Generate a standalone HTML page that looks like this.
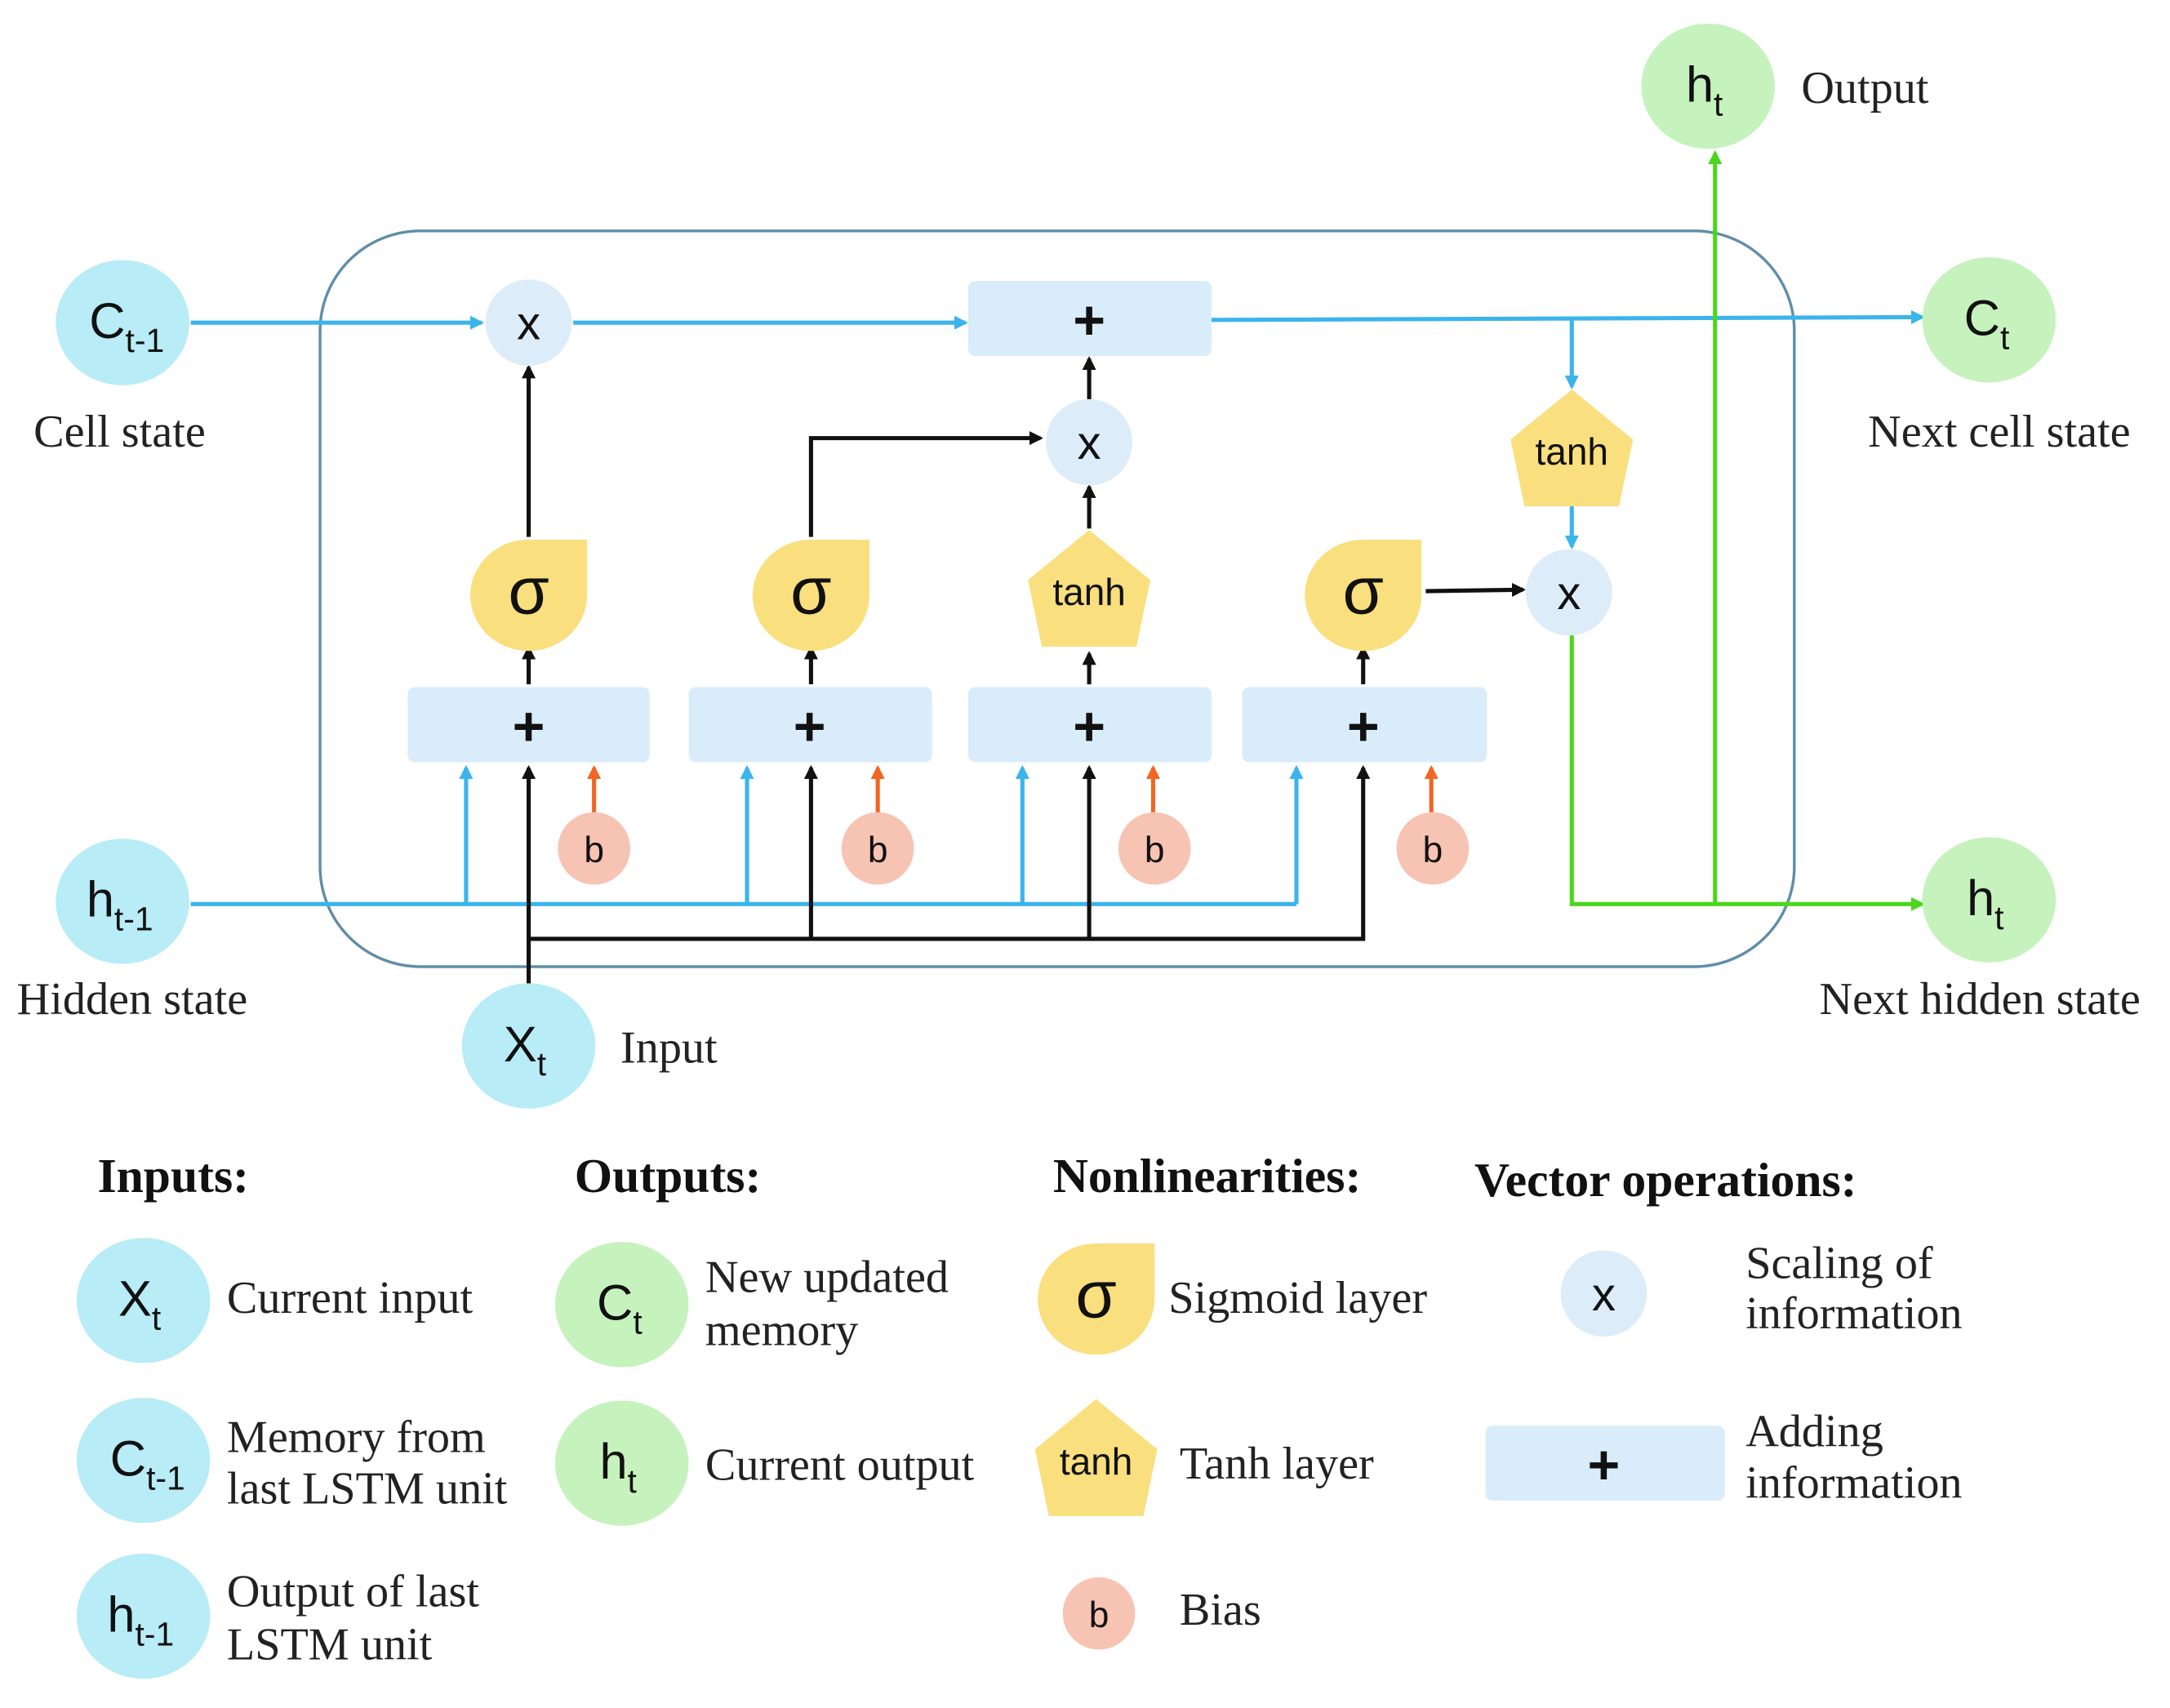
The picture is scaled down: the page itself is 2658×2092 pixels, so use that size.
<!DOCTYPE html>
<html><head><style>
html,body{margin:0;padding:0;background:#fff;width:2658px;height:2092px;overflow:hidden}
svg{display:block}
.s{font-family:"Liberation Sans","DejaVu Sans",sans-serif;fill:#111}
.r{font-family:"Liberation Serif",serif;fill:#222;font-size:33px}
.h{font-family:"Liberation Serif",serif;fill:#111;font-size:35px;font-weight:bold}
</style></head><body>
<svg width="2658" height="2092" viewBox="0 0 1560 1228" xmlns="http://www.w3.org/2000/svg">
<defs>
<marker id="ab" markerWidth="10" markerHeight="10" refX="8" refY="5" orient="auto" markerUnits="userSpaceOnUse"><path d="M0,0 L10,5 L0,10 z" fill="#3bb4ec"/></marker>
<marker id="ak" markerWidth="10" markerHeight="10" refX="8" refY="5" orient="auto" markerUnits="userSpaceOnUse"><path d="M0,0 L10,5 L0,10 z" fill="#111"/></marker>
<marker id="ao" markerWidth="10" markerHeight="10" refX="8" refY="5" orient="auto" markerUnits="userSpaceOnUse"><path d="M0,0 L10,5 L0,10 z" fill="#f26522"/></marker>
<marker id="ag" markerWidth="10" markerHeight="10" refX="8" refY="5" orient="auto" markerUnits="userSpaceOnUse"><path d="M0,0 L10,5 L0,10 z" fill="#4cd61c"/></marker>
<g id="sig"><path d="M0,-40 L42,-40 L42,0 A42,40 0 1 1 0,-40 z" fill="#fadf7f"/><text x="0" y="13" class="s" font-size="48" text-anchor="middle">σ</text></g>
<g id="tnh"><path d="M0,-44 L44,-8 L34,40 L-34,40 L-44,-8 z" fill="#fadf7f"/><text x="0" y="10" class="s" font-size="27" text-anchor="middle">tanh</text></g>
</defs>
<rect x="0" y="0" width="1560" height="1228" fill="#fff"/>
<rect x="230" y="166" width="1060" height="529" rx="72" fill="none" stroke="#5f8ea8" stroke-width="2"/>

<g stroke="#3bb4ec" stroke-width="3" fill="none">
<line x1="137" y1="232" x2="346" y2="232" marker-end="url(#ab)"/>
<line x1="412" y1="232" x2="694" y2="232" marker-end="url(#ab)"/>
<line x1="870" y1="230" x2="1382" y2="228" marker-end="url(#ab)"/>
<line x1="1130" y1="230" x2="1130" y2="278" marker-end="url(#ab)"/>
<line x1="1130" y1="362" x2="1130" y2="393" marker-end="url(#ab)"/>
<line x1="137" y1="650" x2="932" y2="650"/>
<line x1="335" y1="650" x2="335" y2="552" marker-end="url(#ab)"/>
<line x1="537" y1="650" x2="537" y2="552" marker-end="url(#ab)"/>
<line x1="735" y1="650" x2="735" y2="552" marker-end="url(#ab)"/>
<line x1="932" y1="650" x2="932" y2="552" marker-end="url(#ab)"/>
</g>
<g stroke="#111" stroke-width="3" fill="none">
<line x1="380" y1="710" x2="380" y2="552" marker-end="url(#ak)"/>
<polyline points="380,675 980,675 980,552" marker-end="url(#ak)"/>
<line x1="583" y1="675" x2="583" y2="552" marker-end="url(#ak)"/>
<line x1="783" y1="675" x2="783" y2="552" marker-end="url(#ak)"/>
<line x1="380" y1="492" x2="380" y2="466" marker-end="url(#ak)"/>
<line x1="583" y1="492" x2="583" y2="466" marker-end="url(#ak)"/>
<line x1="783" y1="492" x2="783" y2="470" marker-end="url(#ak)"/>
<line x1="980" y1="492" x2="980" y2="466" marker-end="url(#ak)"/>
<line x1="380" y1="386" x2="380" y2="264" marker-end="url(#ak)"/>
<polyline points="583,386 583,315 748,315" marker-end="url(#ak)"/>
<line x1="783" y1="380" x2="783" y2="350" marker-end="url(#ak)"/>
<line x1="783" y1="288" x2="783" y2="258" marker-end="url(#ak)"/>
<line x1="1025" y1="425" x2="1095" y2="424" marker-end="url(#ak)"/>
</g>
<g stroke="#f26522" stroke-width="3">
<line x1="427" y1="584" x2="427" y2="552" marker-end="url(#ao)"/>
<line x1="631" y1="584" x2="631" y2="552" marker-end="url(#ao)"/>
<line x1="829" y1="584" x2="829" y2="552" marker-end="url(#ao)"/>
<line x1="1029" y1="584" x2="1029" y2="552" marker-end="url(#ao)"/>
</g>
<g stroke="#4cd61c" stroke-width="3" fill="none">
<polyline points="1130,456 1130,650 1382,650" marker-end="url(#ag)"/>
<line x1="1233" y1="650" x2="1233" y2="110" marker-end="url(#ag)"/>
</g>

<g fill="#d9ecfa">
<rect x="696" y="202" width="175" height="54" rx="5"/>
<rect x="293" y="494" width="174" height="54" rx="5"/>
<rect x="495" y="494" width="175" height="54" rx="5"/>
<rect x="696" y="494" width="175" height="54" rx="5"/>
<rect x="893" y="494" width="176" height="54" rx="5"/>
<rect x="1068" y="1025" width="172" height="54" rx="5"/>
</g>
<g class="s" font-size="40" font-weight="bold" text-anchor="middle">
<text x="783" y="244">+</text><text x="380" y="536">+</text><text x="582" y="536">+</text><text x="783" y="536">+</text><text x="980" y="536">+</text><text x="1153" y="1067">+</text>
</g>

<g fill="#dcecf8">
<circle cx="380" cy="232" r="31"/><circle cx="783" cy="318" r="31"/><circle cx="1128" cy="426" r="31"/><circle cx="1153" cy="930" r="31"/>
</g>
<g class="s" font-size="34" text-anchor="middle">
<text x="380" y="244">x</text><text x="783" y="330">x</text><text x="1128" y="438">x</text><text x="1153" y="942">x</text>
</g>

<use href="#sig" x="380" y="428"/><use href="#sig" x="583" y="428"/><use href="#sig" x="980" y="428"/>
<use href="#tnh" x="783" y="425"/><use href="#tnh" x="1130" y="324"/>
<use href="#sig" x="788" y="934"/><use href="#tnh" x="788" y="1050"/>

<g fill="#f7c3b3">
<circle cx="427" cy="610" r="26"/><circle cx="631" cy="610" r="26"/><circle cx="830" cy="610" r="26"/><circle cx="1030" cy="610" r="26"/><circle cx="790" cy="1160" r="26"/>
</g>
<g class="s" font-size="26" text-anchor="middle">
<text x="427" y="620">b</text><text x="631" y="620">b</text><text x="830" y="620">b</text><text x="1030" y="620">b</text><text x="790" y="1170">b</text>
</g>

<g fill="#b8ecf6">
<ellipse cx="88" cy="232" rx="48" ry="45"/><ellipse cx="88" cy="648" rx="48" ry="45"/><ellipse cx="380" cy="752" rx="48" ry="45"/>
<ellipse cx="103" cy="935" rx="48" ry="45"/><ellipse cx="103" cy="1050" rx="48" ry="45"/><ellipse cx="103" cy="1162" rx="48" ry="45"/>
</g>
<g fill="#c6f2bd">
<ellipse cx="1228" cy="62" rx="48" ry="45"/><ellipse cx="1430" cy="230" rx="48" ry="45"/><ellipse cx="1430" cy="647" rx="48" ry="45"/>
<ellipse cx="447" cy="938" rx="48" ry="45"/><ellipse cx="447" cy="1052" rx="48" ry="45"/>
</g>
<g class="s" font-size="36">
<text x="64" y="243">C<tspan font-size="24" dy="10">t-1</tspan></text>
<text x="62" y="659">h<tspan font-size="24" dy="10">t-1</tspan></text>
<text x="362" y="763">X<tspan font-size="24" dy="10">t</tspan></text>
<text x="1212" y="73">h<tspan font-size="24" dy="10">t</tspan></text>
<text x="1412" y="241">C<tspan font-size="24" dy="10">t</tspan></text>
<text x="1414" y="658">h<tspan font-size="24" dy="10">t</tspan></text>
<text x="85" y="946">X<tspan font-size="24" dy="10">t</tspan></text>
<text x="79" y="1061">C<tspan font-size="24" dy="10">t-1</tspan></text>
<text x="77" y="1173">h<tspan font-size="24" dy="10">t-1</tspan></text>
<text x="429" y="949">C<tspan font-size="24" dy="10">t</tspan></text>
<text x="431" y="1063">h<tspan font-size="24" dy="10">t</tspan></text>
</g>

<g class="r">
<text x="24" y="321">Cell state</text>
<text x="12" y="729">Hidden state</text>
<text x="446" y="764">Input</text>
<text x="1295" y="74">Output</text>
<text x="1343" y="321">Next cell state</text>
<text x="1308" y="729">Next hidden state</text>
<text x="163" y="944">Current input</text>
<text x="163" y="1044">Memory from</text><text x="163" y="1081">last LSTM unit</text>
<text x="163" y="1155">Output of last</text><text x="163" y="1193">LSTM unit</text>
<text x="507" y="929">New updated</text><text x="507" y="967">memory</text>
<text x="507" y="1064">Current output</text>
<text x="840" y="944">Sigmoid layer</text>
<text x="848" y="1063">Tanh layer</text>
<text x="848" y="1168">Bias</text>
<text x="1255" y="919">Scaling of</text><text x="1255" y="955">information</text>
<text x="1255" y="1040">Adding</text><text x="1255" y="1077">information</text>
</g>
<g class="h">
<text x="70" y="857">Inputs:</text>
<text x="413" y="857">Outputs:</text>
<text x="757" y="857">Nonlinearities:</text>
<text x="1060" y="860">Vector operations:</text>
</g>
</svg>
</body></html>
